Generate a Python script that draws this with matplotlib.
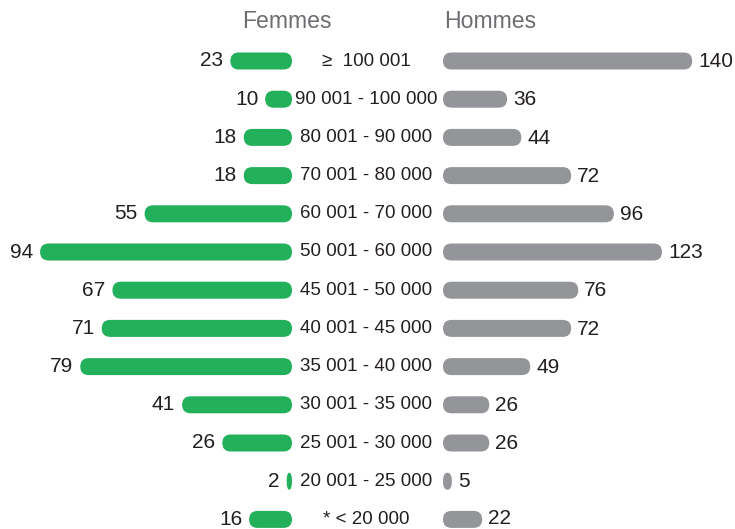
import matplotlib
matplotlib.use("Agg")
import matplotlib.pyplot as plt
from matplotlib.patches import FancyBboxPatch
import matplotlib.transforms as mtransforms

plt.rcParams['font.family'] = ['Liberation Sans', 'DejaVu Sans']

categories = ["\u2265  100 001", "90 001 - 100 000", "80 001 - 90 000", "70 001 - 80 000",
              "60 001 - 70 000", "50 001 - 60 000", "45 001 - 50 000", "40 001 - 45 000",
              "35 001 - 40 000", "30 001 - 35 000", "25 001 - 30 000", "20 001 - 25 000",
              "* < 20 000"]
femmes = [23, 10, 18, 18, 55, 94, 67, 71, 79, 41, 26, 2, 16]
hommes = [140, 36, 44, 72, 96, 123, 76, 72, 49, 26, 26, 5, 22]
headers = ["Femmes", "Hommes"]

W, H = 735, 529
DPI = 100
GREEN = "#22b05a"
GREY = "#939598"
TXT = "#231f20"
HEAD = "#6d6e71"

row0, row_step = 61, 38.2
bar_h_px = 17
f_scale, h_scale = 2.68, 1.78   # px per unit
f_edge, h_edge = 292, 443

fig = plt.figure(figsize=(W / DPI, H / DPI), dpi=DPI)
ylim = ((H - row0) / row_step, -row0 / row_step)

ax_f = fig.add_axes([0, 0, f_edge / W, 1])
ax_h = fig.add_axes([h_edge / W, 0, (W - h_edge) / W, 1])
ax_f.set_xlim(f_edge / f_scale, 0)
ax_h.set_xlim(0, (W - h_edge) / h_scale)
for ax in (ax_f, ax_h):
    ax.set_ylim(*ylim)
    ax.axis('off')

bh = bar_h_px / row_step
ry = (bar_h_px / 2) / row_step


def rbar(ax, i, v, scale, color):
    w_px = v * scale
    rx_px = min(bar_h_px / 2, w_px / 2)
    rx = rx_px / scale
    p = FancyBboxPatch((0, i - bh / 2), v, bh,
                       boxstyle=f"round,pad=0,rounding_size={rx}",
                       mutation_aspect=ry / rx, facecolor=color,
                       edgecolor='none', clip_on=False)
    ax.add_patch(p)


for i, (cat, f, h) in enumerate(zip(categories, femmes, hommes)):
    rbar(ax_f, i, f, f_scale, GREEN)
    rbar(ax_h, i, h, h_scale, GREY)
    ax_f.annotate(str(f), (f, i), xytext=(-5.0, 0), textcoords='offset points',
                  ha='right', va='center', fontsize=15, color=TXT)
    ax_h.annotate(str(h), (h, i), xytext=(4.3, -0.5 if i < len(categories) - 1 else 0.3),
                  textcoords='offset points',
                  ha='left', va='center', fontsize=15, color=TXT)

trans = mtransforms.blended_transform_factory(fig.transFigure, ax_f.transData)
for i, cat in enumerate(categories):
    fig.text(366 / W, i, cat, transform=trans, ha='center', va='center',
             fontsize=13.5, color=TXT)

fig.text(286.5 / W, 1 - 22 / H, headers[0], ha='center', va='center', fontsize=16.6, color=HEAD)
fig.text(490.5 / W, 1 - 22 / H, headers[1], ha='center', va='center', fontsize=16.6, color=HEAD)

fig.savefig("out.png", dpi=DPI)
